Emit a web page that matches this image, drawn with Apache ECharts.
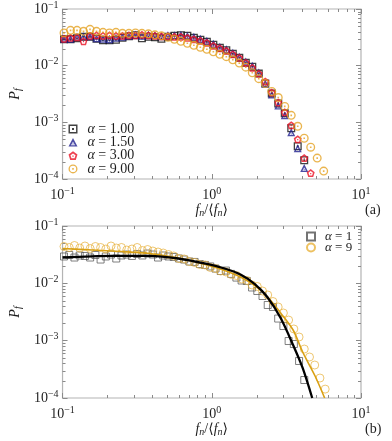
<!DOCTYPE html>
<html>
<head>
<meta charset="utf-8">
<script src="https://cdn.jsdelivr.net/npm/echarts@6/dist/echarts.min.js"></script>
<style>html,body{margin:0;background:#fff}#chart{width:392px;height:441px}</style>
</head>
<body>
<div id="chart"></div>
<script>
// ---- panel (a): binned distributions for four alpha values ----
const xA = [0.1023, 0.1131, 0.1250, 0.1382, 0.1528, 0.1689, 0.1866, 0.2063, 0.2280, 0.2521,
  0.2786, 0.3080, 0.3404, 0.3763, 0.4159, 0.4597, 0.5082, 0.5617, 0.6209, 0.6863,
  0.7586, 0.8385, 0.9268, 1.0245, 1.1324, 1.2517, 1.3836, 1.5293, 1.6904, 1.8685,
  2.0654, 2.2829, 2.5235, 2.7893, 3.0832, 3.4080, 3.7670, 4.1638, 4.6026, 5.0873, 5.6234];
const a100 = [0.0292, 0.0292, 0.0304, 0.0323, 0.0323, 0.0298, 0.0280, 0.0280, 0.0286, 0.0310,
  0.0329, 0.0343, 0.0304, 0.0323, 0.0316, 0.0298, 0.0323, 0.0336, 0.0343, 0.0336,
  0.0310, 0.0286, 0.0264, 0.0234, 0.0207, 0.0187, 0.0162, 0.0138, 0.0113, 0.0096,
  0.00724, 0.00483, 0.00323, 0.00215, 0.00144, 0.000785, 0.000379, 0.000215];
const a150 = [0.0298, 0.0298, 0.0323, 0.0329, 0.0329, 0.0304, 0.0298, 0.0292, 0.0310, 0.0323,
  0.0336, 0.0350, 0.0336, 0.0350, 0.0343, 0.0329, 0.0343, 0.0343, 0.0350, 0.0336,
  0.0323, 0.0298, 0.0275, 0.0243, 0.0215, 0.0195, 0.0169, 0.0144, 0.0118, 0.0100,
  0.00754, 0.00483, 0.00310, 0.00199, 0.00133, 0.000668, 0.000350, 0.000156];
const a300 = [0.0298, 0.0310, 0.0316, 0.0269, 0.0336, 0.0343, 0.0336, 0.0343, 0.0336, 0.0336,
  0.0343, 0.0343, 0.0350, 0.0343, 0.0336, 0.0329, 0.0329, 0.0323, 0.0323, 0.0310,
  0.0292, 0.0275, 0.0253, 0.0224, 0.0203, 0.0183, 0.0159, 0.0138, 0.0113, 0.0092,
  0.00724, 0.00524, 0.00336, 0.00224, 0.00150, 0.000886, 0.000503, 0.000234, 0.000127];
const a900 = [0.0379, 0.0420, 0.0420, 0.0403, 0.0437, 0.0403, 0.0387, 0.0379, 0.0387, 0.0372,
  0.0372, 0.0379, 0.0372, 0.0364, 0.0350, 0.0336, 0.0316, 0.0292, 0.0269, 0.0248,
  0.0229, 0.0211, 0.0195, 0.0176, 0.0159, 0.0144, 0.0127, 0.0111, 0.0094, 0.0075,
  0.0059, 0.00483, 0.00350, 0.00274, 0.00191, 0.00133, 0.000851, 0.000524, 0.000364, 0.000234, 0.000138];

// ---- panel (b): alpha = 1 and 9 with fitted curves ----
const xB = [0.1023, 0.1109, 0.1202, 0.1303, 0.1413, 0.1531, 0.1660, 0.1799, 0.1950, 0.2113,
  0.2291, 0.2483, 0.2692, 0.2917, 0.3162, 0.3428, 0.3715, 0.4027, 0.4365, 0.4732,
  0.5129, 0.5559, 0.6026, 0.6531, 0.7079, 0.7674, 0.8318, 0.9016, 0.9772, 1.0593,
  1.1482, 1.2445, 1.3490, 1.4622, 1.5849, 1.7179, 1.8621, 2.0184, 2.1878, 2.3714,
  2.5704, 2.7861, 3.0200, 3.2734, 3.5481, 3.8459, 4.1687, 4.5186, 4.8978, 5.3088, 5.7544];
const b1 = [0.0294, 0.0312, 0.0282, 0.0306, 0.0300, 0.0282, 0.0312, 0.0260, 0.0294, 0.0318,
  0.0271, 0.0306, 0.0318, 0.0300, 0.0325, 0.0306, 0.0331, 0.0318, 0.0282, 0.0306,
  0.0294, 0.0288, 0.0271, 0.0260, 0.0240, 0.0236, 0.0217, 0.0209, 0.0197, 0.0181,
  0.0164, 0.0167, 0.0146, 0.0126, 0.0112, 0.0110, 0.00846, 0.00735, 0.00601, 0.00419,
  0.00387, 0.00243, 0.00180, 0.000986, 0.000874, 0.000442, 0.000206];
const b9 = [0.0439, 0.0422, 0.0457, 0.0413, 0.0448, 0.0405, 0.0439, 0.0422, 0.0397, 0.0448,
  0.0413, 0.0422, 0.0381, 0.0397, 0.0422, 0.0374, 0.0389, 0.0366, 0.0352, 0.0338,
  0.0318, 0.0300, 0.0271, 0.0266, 0.0240, 0.0231, 0.0213, 0.0209, 0.0189, 0.0181,
  0.0164, 0.0158, 0.0143, 0.0137, 0.0119, 0.0112, 0.00935, 0.00881, 0.00735, 0.00626,
  0.00482, 0.00387, 0.00304, 0.00229, 0.00160, 0.00116, 0.000715, 0.000519, 0.000376, 0.000223, 0.000143];
const fitX1 = [0.1, 0.2123, 0.3831, 0.5965, 0.9288, 1.248, 1.557, 1.943, 2.354, 2.894, 3.507, 4.064, 4.711];
const fitY1 = [0.02822, 0.03021, 0.03021, 0.0271, 0.02174, 0.01778, 0.01426, 0.00973, 0.005775, 0.002484, 0.00084, 0.000334, 0.0001];
const fitX9 = [0.1, 0.158, 0.246, 0.383, 0.5965, 0.9288, 1.248, 1.557, 1.943, 2.354, 2.894, 3.507, 4.064, 4.923, 5.706];
const fitY9 = [0.04049, 0.03814, 0.03591, 0.03314, 0.02765, 0.02088, 0.0164, 0.01289, 0.00917, 0.005891, 0.003038, 0.001535, 0.000634, 0.000242, 0.0001];

// minor tick positions (2..9 within each decade)
const minorMult = [2, 3, 4, 5, 6, 7, 8, 9];
const xDecades = [0.1, 1];
const yDecades = [0.0001, 0.001, 0.01];
const X_MIN = 0.1, X_MAX = 10, Y_MIN = 0.0001, Y_MAX = 0.1;

const serif = "'Liberation Serif', 'DejaVu Serif', serif";
const frame = "#b4b4b4";
const tickCol = "#8a8a8a";
const ink = "#1e1e1e";

const minorX = [];
xDecades.forEach(function (d) { minorMult.forEach(function (m) { minorX.push(d * m); }); });
const minorY = [];
yDecades.forEach(function (d) { minorMult.forEach(function (m) { minorY.push(d * m); }); });

function pairs(xs, ys) { return ys.map(function (y, i) { return [xs[i], y]; }); }

function pow10(v) {
  const e = Math.round(Math.log10(v));
  return "10{s|" + (e < 0 ? "\u2212" + (-e) : e) + "}";
}
const labelRich = {
  s: { fontSize: 10, fontFamily: serif, color: ink, padding: [0, 0, 8, 0] }
};

function majorAxis(dim, grid, pos, withLabels, min, max, name) {
  const ax = {
    type: "log", logBase: 10, gridIndex: grid, position: pos, min: min, max: max,
    axisLine: { show: false, onZero: false }, splitLine: { show: false },
    axisTick: { show: true, inside: true, length: 5, lineStyle: { color: tickCol, width: 1 } },
    axisLabel: withLabels ? {
      formatter: pow10, color: ink, fontFamily: serif, fontSize: 14,
      margin: dim === "x" ? 7 : 4, rich: labelRich
    } : { show: false }
  };
  if (name) {
    ax.name = name;
    ax.nameLocation = "middle";
    if (dim === "x") {
      ax.nameGap = 23;
    } else {
      ax.nameGap = 37;
      ax.nameRotate = 90;
    }
    ax.nameTextStyle = {
      color: ink, fontFamily: serif, fontSize: 14,
      rich: {
        i: { fontStyle: "italic", fontFamily: serif, fontSize: 14, color: ink },
        b: { fontStyle: "italic", fontFamily: serif, fontSize: 10, color: ink, padding: [6, 0, 0, 0] }
      }
    };
  }
  return ax;
}

// short inward minor ticks on all four sides, placed through the axes' own scales
function minorTicks(axisIdx) {
  const data = minorX.map(function (v) { return [v, Y_MIN, 0]; })
    .concat(minorY.map(function (v) { return [X_MIN, v, 1]; }));
  return {
    type: "custom", xAxisIndex: axisIdx, yAxisIndex: axisIdx, silent: true, z: 1,
    data: data, clip: false,
    renderItem: function (params, api) {
      const st = { stroke: tickCol, lineWidth: 1 };
      if (api.value(2) === 0) {
        const b = api.coord([api.value(0), Y_MIN]);
        const t = api.coord([api.value(0), Y_MAX]);
        const x = Math.round(b[0]) + 0.5;
        return { type: "group", children: [
          { type: "line", shape: { x1: x, y1: b[1], x2: x, y2: b[1] - 3 }, style: st },
          { type: "line", shape: { x1: x, y1: t[1], x2: x, y2: t[1] + 3 }, style: st }
        ] };
      }
      const l = api.coord([X_MIN, api.value(1)]);
      const r = api.coord([X_MAX, api.value(1)]);
      const y = Math.round(l[1]) + 0.5;
      return { type: "group", children: [
        { type: "line", shape: { x1: l[0], y1: y, x2: l[0] + 3, y2: y }, style: st },
        { type: "line", shape: { x1: r[0], y1: y, x2: r[0] - 3, y2: y }, style: st }
      ] };
    }
  };
}

const xAxes = [], yAxes = [];
const xName = "{i|f}{b|n}/\u27e8{i|f}{b|n}\u27e9";
const yName = "{i|P}{b|f}";
[0, 1].forEach(function (g) {
  xAxes.push(majorAxis("x", g, "bottom", true, X_MIN, X_MAX, xName));
  xAxes.push(majorAxis("x", g, "top", false, X_MIN, X_MAX));
  yAxes.push(majorAxis("y", g, "left", true, Y_MIN, Y_MAX, yName));
  yAxes.push(majorAxis("y", g, "right", false, Y_MIN, Y_MAX));
});

// open markers with a centre dot (inner contour wound the other way = hole)
const symSquare = "path://M0,0H10V10H0Z M1.6,1.6V8.4H8.4V1.6Z M3.9,3.9H6.1V6.1H3.9Z";
const symTri = "path://M5,0L10,9.5H0Z M5,4L2.8,8H7.2Z M4.4,6.2H5.6V7.3H4.4Z";
const symPent = "path://M5,0.2L9.76,3.65L7.94,9.25L2.06,9.25L0.24,3.65Z M5,2.4L2.34,4.33L3.35,7.47L6.65,7.47L7.66,4.33Z M4.3,4.5H5.7V5.9H4.3Z";
const symCirc = "path://M5,0A5,5 0 1,1 5,10A5,5 0 1,1 5,0Z M5,1.5A3.5,3.5 0 1,0 5,8.5A3.5,3.5 0 1,0 5,1.5Z M4.1,4.1H5.9V5.9H4.1Z";

const cBlack = "#111111", cBlue = "#1f1f8f", cRed = "#ea1224", cGold = "#e5a323";
const cGrayB = "#505050", cGoldB = "#e8b13a", cGoldLine = "#d9a014";

function scatA(name, ys, sym, size, color) {
  return {
    name: name, type: "scatter", xAxisIndex: 0, yAxisIndex: 0,
    data: pairs(xA, ys), symbol: sym, symbolSize: size,
    itemStyle: { color: color }, emphasis: { disabled: true }
  };
}

const legendText = function (fs) {
  return { color: ink, fontFamily: serif, fontSize: fs, padding: [0, 0, 0, 5],
    rich: { a: { fontStyle: "italic", fontFamily: serif, fontSize: fs, color: ink } } };
};

const chart = echarts.init(document.getElementById("chart"), null, { renderer: "canvas" });
chart.setOption({
  animation: false,
  backgroundColor: "#fff",
  grid: [
    { left: 50, top: 8, width: 311, height: 171, show: true, borderColor: frame, borderWidth: 1.2 },
    { left: 49, top: 226, width: 312, height: 172, show: true, borderColor: frame, borderWidth: 1.2 }
  ],
  xAxis: xAxes,
  yAxis: yAxes,
  legend: [
    {
      data: ["\u03b1 = 1.00", "\u03b1 = 1.50", "\u03b1 = 3.00", "\u03b1 = 9.00"],
      orient: "vertical", left: 68.5, top: 122, padding: 0,
      itemWidth: 9, itemHeight: 9, itemGap: -0.7, selectedMode: false,
      formatter: function (n) { return "{a|\u03b1}" + n.slice(1); },
      textStyle: legendText(14)
    },
    {
      data: ["\u03b1 = 1", "\u03b1 = 9"],
      orient: "vertical", left: 306, top: 230, padding: 0,
      itemWidth: 8, itemHeight: 8, itemGap: -2, selectedMode: false,
      formatter: function (n) { return "{a|\u03b1}" + n.slice(1); },
      textStyle: legendText(13)
    }
  ],
  graphic: [
    { type: "text", left: 365, top: 203, style: { text: "(a)", font: "14px " + serif, fill: ink } },
    { type: "text", left: 365, top: 422, style: { text: "(b)", font: "14px " + serif, fill: ink } }
  ],
  series: [
    minorTicks(0),
    minorTicks(2),
    scatA("\u03b1 = 1.00", a100, symSquare, 8, cBlack),
    scatA("\u03b1 = 1.50", a150, symTri, 8, cBlue),
    scatA("\u03b1 = 3.00", a300, symPent, 8, cRed),
    scatA("\u03b1 = 9.00", a900, symCirc, 9, cGold),
    {
      name: "\u03b1 = 1", type: "scatter", xAxisIndex: 2, yAxisIndex: 2,
      data: pairs(xB, b1), symbol: "rect", symbolSize: 7,
      itemStyle: { color: "rgba(0,0,0,0)", borderColor: cGrayB, borderWidth: 0.9 }
    },
    {
      name: "\u03b1 = 9", type: "scatter", xAxisIndex: 2, yAxisIndex: 2,
      data: pairs(xB, b9), symbol: "circle", symbolSize: 8,
      itemStyle: { color: "rgba(0,0,0,0)", borderColor: cGoldB, borderWidth: 0.9 }
    },
    {
      type: "line", xAxisIndex: 2, yAxisIndex: 2, data: pairs(fitX9, fitY9),
      smooth: 0.3, showSymbol: false, lineStyle: { color: cGoldLine, width: 1.6 }, z: 5
    },
    {
      type: "line", xAxisIndex: 2, yAxisIndex: 2, data: pairs(fitX1, fitY1),
      smooth: 0.3, showSymbol: false, lineStyle: { color: "#000", width: 2.3 }, z: 6
    }
  ]
});
</script>
</body>
</html>
